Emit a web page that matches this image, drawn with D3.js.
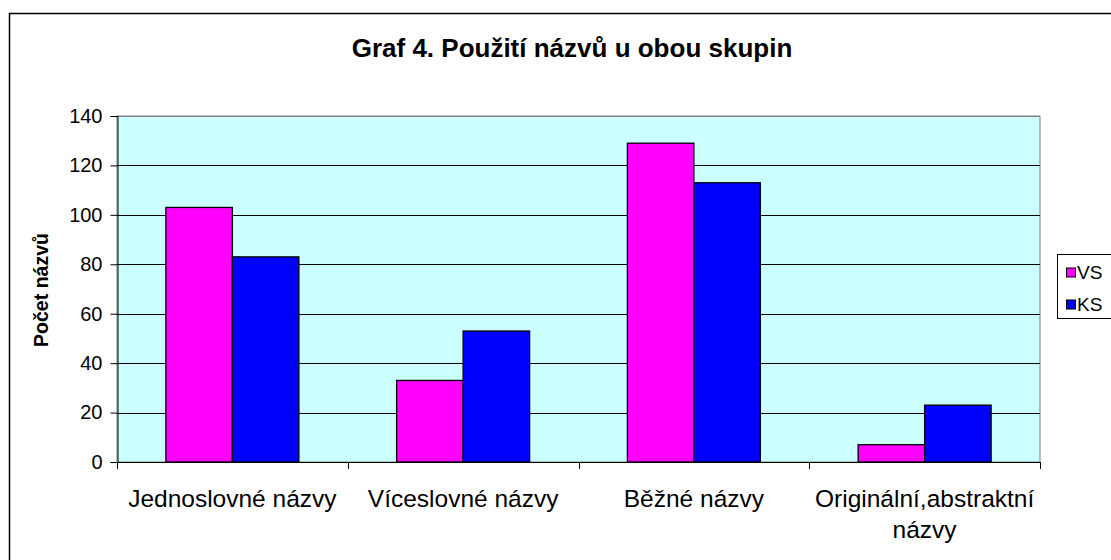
<!DOCTYPE html>
<html>
<head>
<meta charset="utf-8">
<script src="https://cdn.jsdelivr.net/npm/d3@7"></script>
<style>
  body { margin: 0; background: #fff; }
  text { font-family: "Liberation Sans", Arial, sans-serif; }
</style>
</head>
<body>
<script>
(function(){
var categories = [["Jednoslovné názvy"], ["Víceslovné názvy"], ["Běžné názvy"], ["Originální,abstraktní", "názvy"]];
var seriesNames = ["VS", "KS"];
var seriesColors = ["#ff00ff", "#0000ff"];
var vsValues = [103, 33, 129, 7];
var ksValues = [83, 53, 113, 23];
var yTicks = [0, 20, 40, 60, 80, 100, 120, 140];

var W = 1111, H = 560;
var svg = d3.select("body").append("svg").attr("width", W).attr("height", H);

// outer frame
svg.append("rect").attr("x", 9.5).attr("y", 13.5).attr("width", 1140).attr("height", 600)
  .attr("fill", "#fff").attr("stroke", "#000").attr("stroke-width", 1.5);

var pl = 117, pr = 1040, pt = 116, pb = 462;

var x = d3.scaleBand().domain(d3.range(categories.length)).range([pl, pr]);
var y = d3.scaleLinear().domain([0, 140]).range([pb, pt]);

// plot area
svg.append("rect").attr("x", pl).attr("y", pt).attr("width", pr - pl).attr("height", pb - pt)
  .attr("fill", "#ccffff").attr("stroke", "#808080");

// grid
svg.selectAll(".grid").data(yTicks.filter(function(d){ return d > 0; })).enter().append("line")
  .attr("x1", pl).attr("x2", pr)
  .attr("y1", function(d){ return Math.round(y(d)) + 0.5; })
  .attr("y2", function(d){ return Math.round(y(d)) + 0.5; })
  .attr("stroke", function(d){ return d === 140 ? "#808080" : "#000"; });

// bars
var barW = 66.5;
var allBars = [];
categories.forEach(function(c, i){
  allBars.push({v: vsValues[i], s: 0, i: i});
  allBars.push({v: ksValues[i], s: 1, i: i});
});
svg.selectAll(".bar").data(allBars).enter().append("rect")
  .attr("x", function(d){ return x(d.i) + x.bandwidth() / 2 - barW + d.s * barW; })
  .attr("y", function(d){ return y(d.v); })
  .attr("width", barW)
  .attr("height", function(d){ return y(0) - y(d.v); })
  .attr("fill", function(d){ return seriesColors[d.s]; })
  .attr("stroke", "#000").attr("stroke-width", 1.3);

// y axis
var yAxis = d3.axisLeft(y).tickValues(yTicks).tickSize(7).tickPadding(8);
var ya = svg.append("g").attr("transform", "translate(" + (pl + 0.5) + ",0)").call(yAxis);
ya.select(".domain").attr("stroke", "#000");
ya.selectAll(".tick line").attr("stroke", "#000");
ya.selectAll("text").attr("font-size", "20px").attr("fill", "#000")
  .attr("font-family", "Liberation Sans, Arial, sans-serif");

// x axis
svg.append("line").attr("x1", pl).attr("x2", pr).attr("y1", pb + 0.5).attr("y2", pb + 0.5)
  .attr("stroke", "#000");
svg.selectAll(".xt").data(d3.range(categories.length + 1)).enter().append("line")
  .attr("x1", function(d){ return Math.round(pl + d * x.step()) + 0.5; })
  .attr("x2", function(d){ return Math.round(pl + d * x.step()) + 0.5; })
  .attr("y1", pb).attr("y2", pb + 7).attr("stroke", "#000");

svg.selectAll(".xl").data(categories).enter().append("text")
  .attr("x", function(d, i){ return x(i) + x.bandwidth() / 2; })
  .attr("y", 507)
  .attr("text-anchor", "middle").attr("font-size", "24.5px")
  .each(function(d){
    var t = d3.select(this);
    d.forEach(function(line, k){
      t.append("tspan").attr("x", t.attr("x")).attr("dy", k === 0 ? 0 : 31).text(line);
    });
  });

// title
svg.append("text").attr("x", 572).attr("y", 57).attr("text-anchor", "middle")
  .attr("font-size", "26px").attr("font-weight", "bold").text("Graf 4. Použití názvů u obou skupin");

// y label
svg.append("text").attr("transform", "translate(48,290) rotate(-90)").attr("text-anchor", "middle")
  .attr("font-size", "19.5px").attr("font-weight", "bold").text("Počet názvů");

// legend
var lg = svg.append("g");
lg.append("rect").attr("x", 1057.5).attr("y", 254.5).attr("width", 80).attr("height", 64)
  .attr("fill", "#fff").attr("stroke", "#000");
seriesNames.forEach(function(n, i){
  var yy = 272.5 + i * 32;
  lg.append("rect").attr("x", 1066.5).attr("y", yy - 4.5).attr("width", 9).attr("height", 9)
    .attr("fill", seriesColors[i]).attr("stroke", "#000");
  lg.append("text").attr("x", 1077).attr("y", yy + 6.5).attr("font-size", "19px").text(n);
});
})();
</script>
</body>
</html>
